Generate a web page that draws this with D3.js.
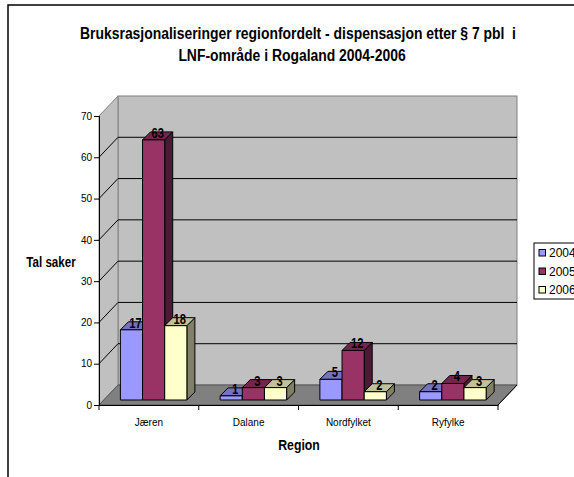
<!DOCTYPE html>
<html>
<head>
<meta charset="utf-8">
<script src="https://cdn.jsdelivr.net/npm/d3@7"></script>
<style>
  body { margin: 0; background: #fff; }
  text { font-family: "Liberation Sans", Arial, sans-serif; }
</style>
</head>
<body>
<div id="chart"></div>
<script>
// data
let regions = ['Jæren', 'Dalane', 'Nordfylket', 'Ryfylke'];
let years = ['2004', '2005', '2006'];
let values2004 = [17, 1, 5, 2];
let values2005 = [63, 3, 12, 4];
let values2006 = [18, 3, 2, 3];
let yTicks = [0, 10, 20, 30, 40, 50, 60, 70];

let seriesValues = [values2004, values2005, values2006];
let frontColors = ['#9999FF', '#993366', '#FFFFCC'];
let topColors = ['#7373C0', '#73264D', '#C0C099'];
let sideColors = ['#4D4D80', '#4D1A33', '#808066'];

let svgWidth = 574, svgHeight = 477;

// 3D geometry: plot front plane and depth offset
let plot = { left: 99, right: 498, bottom: 405, top: 116 };
let depth = { dx: 19, dy: -20 };
let barDepth = 8;     // depth of each column
let barOffset = 5;    // how far the columns stand back from the front plane

let svg = d3.select('#chart').append('svg')
    .attr('width', svgWidth).attr('height', svgHeight);

// narrow (condensed) text: a group that squeezes its text horizontally
function narrowText(parent, x, y, k, str) {
    return parent.append('g')
        .attr('transform', `translate(${x},${y}) scale(${k},1)`)
        .append('text')
        .attr('x', 0).attr('y', 0)
        .text(str);
}

// outer chart border
svg.append('rect')
    .attr('x', 8).attr('y', 5)
    .attr('width', 600).attr('height', 500)
    .attr('fill', '#fff').attr('stroke', '#000').attr('stroke-width', 1.5);

// scales
let xScale = d3.scaleBand().domain(regions).range([plot.left, plot.right]);
let xInner = d3.scaleBand().domain(years).range([0, xScale.bandwidth()]).paddingOuter(0.75);
let yScale = d3.scaleLinear().domain([0, 70]).range([plot.bottom, plot.top]);

// back wall
svg.append('rect')
    .attr('x', plot.left + depth.dx).attr('y', plot.top + depth.dy)
    .attr('width', plot.right - plot.left).attr('height', plot.bottom - plot.top)
    .attr('fill', '#C0C0C0').attr('stroke', '#808080');

// side wall
let sidePts = [[plot.left, plot.top], [plot.left + depth.dx, plot.top + depth.dy],
    [plot.left + depth.dx, plot.bottom + depth.dy], [plot.left, plot.bottom]];
svg.append('polygon')
    .attr('points', sidePts.map(p => p.join(',')).join(' '))
    .attr('fill', '#C0C0C0').attr('stroke', '#808080');

// gridlines on the walls
let gridGroup = svg.append('g');
yTicks.filter(t => t > 0 && t < 70).forEach(t => {
    let yf = yScale(t);
    gridGroup.append('line')
        .attr('x1', plot.left).attr('y1', yf)
        .attr('x2', plot.left + depth.dx).attr('y2', yf + depth.dy)
        .attr('stroke', '#000');
    gridGroup.append('line')
        .attr('x1', plot.left + depth.dx).attr('y1', yf + depth.dy)
        .attr('x2', plot.right + depth.dx).attr('y2', yf + depth.dy)
        .attr('stroke', '#000');
});

// floor
let floorPts = [[plot.left, plot.bottom], [plot.left + depth.dx, plot.bottom + depth.dy],
    [plot.right + depth.dx, plot.bottom + depth.dy], [plot.right, plot.bottom]];
svg.append('polygon')
    .attr('points', floorPts.map(p => p.join(',')).join(' '))
    .attr('fill', '#808080').attr('stroke', '#555');
svg.append('line')
    .attr('x1', plot.right).attr('y1', plot.bottom)
    .attr('x2', plot.right + depth.dx).attr('y2', plot.bottom + depth.dy)
    .attr('stroke', '#000');

// bars (left to right so each front face covers the previous side face)
let barGroup = svg.append('g');
let labels = [];
let ox = barOffset * depth.dx / -depth.dy;
let oy = -barOffset;
regions.forEach((region, i) => {
    years.forEach((year, s) => {
        let v = seriesValues[s][i];
        let x0 = xScale(region) + xInner(year) + ox;
        let x1 = x0 + xInner.bandwidth();
        let yb = yScale(0) + oy;
        let yt = yScale(v) + oy;
        let g = barGroup.append('g').attr('stroke', '#000').attr('stroke-width', 1).attr('stroke-linejoin', 'round');
        // side face
        g.append('polygon')
            .attr('points', [[x1, yb], [x1 + barDepth, yb - barDepth], [x1 + barDepth, yt - barDepth], [x1, yt]]
                .map(p => p.join(',')).join(' '))
            .attr('fill', sideColors[s]);
        // top face
        g.append('polygon')
            .attr('points', [[x0, yt], [x0 + barDepth, yt - barDepth], [x1 + barDepth, yt - barDepth], [x1, yt]]
                .map(p => p.join(',')).join(' '))
            .attr('fill', topColors[s]);
        // front face
        g.append('rect')
            .attr('x', x0).attr('y', yt)
            .attr('width', x1 - x0).attr('height', yb - yt)
            .attr('fill', frontColors[s]);
        labels.push({ x: (x0 + x1) / 2 + 4, y: yt - 2, v: v });
    });
});

// value labels (condensed bold)
let labelGroup = svg.append('g');
labels.forEach(d => {
    narrowText(labelGroup, d.x, d.y, 0.8, d.v)
        .attr('text-anchor', 'middle')
        .attr('font-size', '14px')
        .attr('font-weight', 'bold');
});

// y axis
let yAxisG = svg.append('g')
    .attr('transform', `translate(${plot.left},0)`)
    .call(d3.axisLeft(yScale).tickValues(yTicks).tickSize(5).tickPadding(2));
yAxisG.select('.domain').attr('stroke', '#000');
yAxisG.selectAll('text').attr('font-size', '10px').attr('fill', '#000')
    .attr('font-family', '"Liberation Sans", Arial, sans-serif');

// x axis (ticks between categories)
let xAxisG = svg.append('g')
    .attr('transform', `translate(0,${plot.bottom})`)
    .call(d3.axisBottom(xScale).tickSize(0).tickPadding(14));
xAxisG.select('.domain').attr('stroke', '#000');
xAxisG.selectAll('text').attr('font-size', '10px').attr('fill', '#000')
    .attr('font-family', '"Liberation Sans", Arial, sans-serif');
let boundaries = regions.map(r => xScale(r)).concat([plot.right]);
xAxisG.selectAll('.bound')
    .data(boundaries)
    .enter()
    .append('line')
    .attr('x1', d => d).attr('x2', d => d)
    .attr('y1', 0).attr('y2', 5)
    .attr('stroke', '#000');

// title (condensed bold)
narrowText(svg, 298, 39, 0.87, 'Bruksrasjonaliseringer regionfordelt - dispensasjon etter § 7 pbl  i')
    .attr('text-anchor', 'middle').attr('font-size', '16px').attr('font-weight', 'bold')
    .style('white-space', 'pre');
narrowText(svg, 292, 61, 0.87, 'LNF-område i Rogaland 2004-2006')
    .attr('text-anchor', 'middle').attr('font-size', '16px').attr('font-weight', 'bold');

// axis titles
narrowText(svg, 51, 267, 0.8, 'Tal saker')
    .attr('text-anchor', 'middle').attr('font-size', '14.5px').attr('font-weight', 'bold');
narrowText(svg, 299, 450, 0.82, 'Region')
    .attr('text-anchor', 'middle').attr('font-size', '15px').attr('font-weight', 'bold');

// legend
let legend = svg.append('g').attr('transform', 'translate(534,243)');
legend.append('rect')
    .attr('x', 0).attr('y', 0).attr('width', 60).attr('height', 56)
    .attr('fill', '#fff').attr('stroke', '#000');
years.forEach((year, s) => {
    let row = legend.append('g').attr('transform', `translate(0,${10 + s * 18.5})`);
    row.append('rect')
        .attr('x', 5).attr('y', -3.5).attr('width', 6.5).attr('height', 6.5)
        .attr('fill', frontColors[s]).attr('stroke', '#000');
    row.append('text')
        .attr('x', 15).attr('y', 0).attr('dy', '0.36em')
        .attr('font-size', '12px')
        .text(year);
});
</script>
</body>
</html>
